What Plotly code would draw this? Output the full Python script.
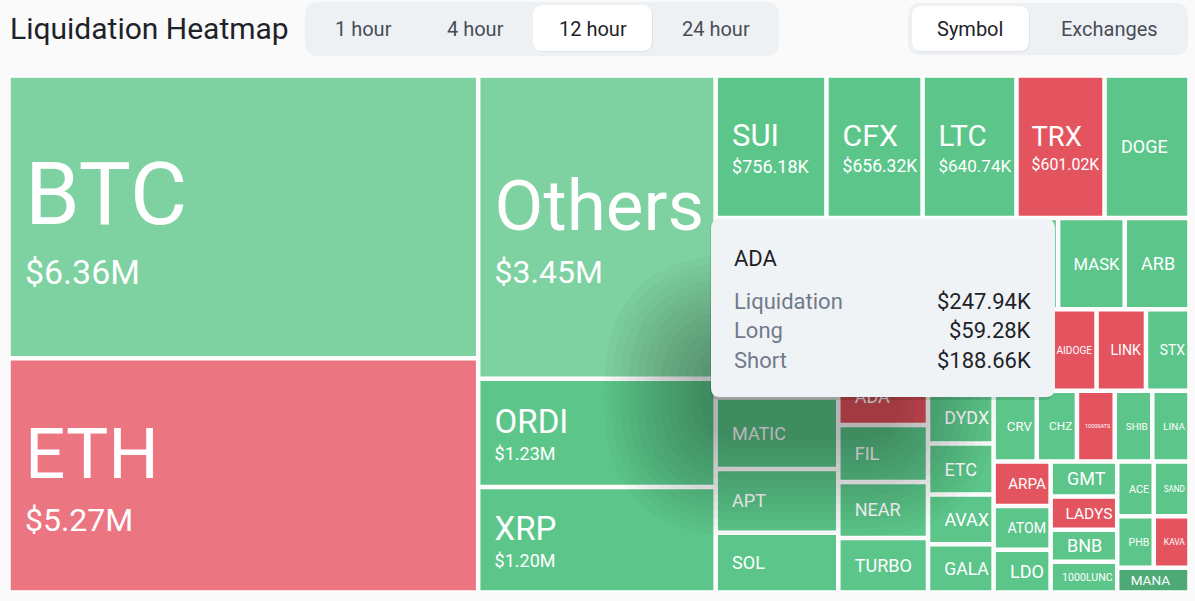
import plotly.graph_objects as go

W, H = 1195, 601

# ---- data (liquidations, thousands of USD) ----
symbols = [
    "BTC", "ETH", "Others", "ORDI", "XRP",
    "SUI", "CFX", "LTC", "TRX", "DOGE",
    "BCH", "WLD", "MATIC", "APT", "SOL",
    "OP", "TIA", "INJ", "MASK", "ARB",
    "BLUR", "ADA", "FIL", "NEAR", "TURBO",
    "FET", "SEI", "AIDOGE", "LINK", "STX",
    "DYDX", "ETC", "AVAX", "GALA",
    "CRV", "CHZ", "1000SATS", "SHIB", "LINA",
    "ARPA", "ATOM", "LDO",
    "GMT", "LADYS", "BNB", "1000LUNC",
    "ACE", "SAND", "PHB", "KAVA", "MANA",
]
liquidation_k = [
    6360, 5270, 3450, 1230, 1200,
    756.18, 656.32, 640.74, 601.02, 580,
    545, 509, 420, 375, 351,
    321, 320, 319, 291, 283,
    249, 247.94, 245, 241, 234,
    232, 226, 200, 193, 170,
    166, 160, 156, 152,
    146, 136, 128, 127, 126,
    122, 119, 117,
    112, 106, 102, 98,
    96, 94, 90, 88, 86,
]
# share of the liquidations that hit longs (%), estimated from tile colour
long_pct = [
    58, 44, 60, 72, 75,
    78, 70, 74, 30, 72,
    70, 76, 73, 77, 71,
    68, 74, 70, 75, 72,
    69, 23.9, 72, 74, 77,
    73, 70, 28, 31, 76,
    74, 70, 72, 75,
    71, 73, 27, 70, 76,
    32, 72, 74,
    71, 29, 73, 70,
    75, 72, 74, 30, 93,
]

hover_symbol = "ADA"
hover_long_k = 59.28
hover_short_k = 188.66
# tiles whose labels sit completely under the hover card
under_card = ["BCH", "WLD", "OP", "TIA", "INJ", "BLUR", "FET", "SEI"]

periods = ["1 hour", "4 hour", "12 hour", "24 hour"]
selected_period = "12 hour"
views = ["Symbol", "Exchanges"]
selected_view = "Symbol"


def tile_color(p):
    if p < 40:
        return "#E4545F"
    if p < 50:
        return "#EC7582"
    if p < 65:
        return "#7ED1A0"
    if p < 90:
        return "#5CC68A"
    return "#4DAA76"


def money(v):
    return f"${v / 1000:.2f}M" if v >= 1000 else f"${v:.2f}K"


def tile_text(name, v):
    if name in under_card:
        return ""
    pad = '<span style="font-size:16px">&nbsp;&nbsp;&nbsp;</span>'
    if v >= 6000:
        ns, vs = 88, 34
    elif v >= 3000:
        ns, vs = 71, 32
    elif v >= 1000:
        ns, vs = 33, 18
    elif v >= 600:
        ns, vs = 31, 18
    else:
        return f'{pad}<span style="font-size:18px">{name}</span>'
    return (f'{pad}<span style="font-size:{ns}px">{name}</span><br>'
            f'{pad}<span style="font-size:{vs}px">{money(v)}</span>')


def base_size(v):
    # controls the gap between the name line and the value line
    if v >= 6000:
        return 46
    if v >= 3000:
        return 41
    if v >= 600:
        return 21
    return 18


# explicit root so every per-tile array has an entry for every node
ids = ["all"] + symbols
labels = [""] + symbols
parents = [""] + ["all"] * len(symbols)
values = [sum(liquidation_k)] + liquidation_k
texts = [""] + [tile_text(s, v) for s, v in zip(symbols, liquidation_k)]
colors = ["rgba(0,0,0,0)"] + [tile_color(p) for p in long_pct]
sizes = [18] + [base_size(v) for v in liquidation_k]

fig = go.Figure(go.Treemap(
    ids=ids,
    labels=labels,
    parents=parents,
    values=values,
    branchvalues="total",
    text=texts,
    textinfo="text",
    textposition="middle left",
    textfont=dict(family="Roboto", color="white", size=sizes),
    marker=dict(colors=colors,
                line=dict(color="white", width=1.5),
                pad=dict(t=0, l=0, r=0, b=0)),
    tiling=dict(squarifyratio=1.618034),
    sort=True,
    pathbar=dict(visible=False),
    hoverinfo="skip",
    domain=dict(x=[10 / W, 1188 / W], y=[1 - 591 / H, 1 - 77 / H]),
))


def P(x, y):
    return f"{x / W:.5f},{1 - y / H:.5f}"


def rounded(x0, y0, x1, y1, r):
    return (f"M{P(x0 + r, y0)} L{P(x1 - r, y0)} Q{P(x1, y0)} {P(x1, y0 + r)} "
            f"L{P(x1, y1 - r)} Q{P(x1, y1)} {P(x1 - r, y1)} L{P(x0 + r, y1)} "
            f"Q{P(x0, y1)} {P(x0, y1 - r)} L{P(x0, y0 + r)} Q{P(x0, y0)} {P(x0 + r, y0)} Z")


shapes = []


def box(x0, y0, x1, y1, r, fill, opacity=1):
    shapes.append(dict(type="path", xref="paper", yref="paper",
                       path=rounded(x0, y0, x1, y1, r), fillcolor=fill,
                       opacity=opacity, line=dict(width=0), layer="above"))


annotations = []


def label(x, y, text, size, color, anchor="left"):
    annotations.append(dict(x=x / W, y=1 - y / H, xref="paper", yref="paper",
                            text=text, showarrow=False, xanchor=anchor,
                            yanchor="middle",
                            font=dict(family="Roboto", size=size, color=color)))


# ---- header ----
label(8, 29, "Liquidation Heatmap", 30, "#1E2329")

box(305, 2, 779, 56, 13, "#EEF1F4")
period_x = [363, 475, 593, 716]
for p, cx in zip(periods, period_x):
    if p == selected_period:
        box(534, 6, 653, 52, 10, "rgba(0,0,0,0.06)")
        box(533, 5, 652, 51, 10, "white")
for p, cx in zip(periods, period_x):
    label(cx, 29, p, 20, "#1E2329" if p == selected_period else "#474D57",
          anchor="center")

box(908, 3, 1188, 55, 13, "#EEF1F4")
view_x = [970, 1109]
for v, cx in zip(views, view_x):
    if v == selected_view:
        box(913, 7, 1030, 52, 10, "rgba(0,0,0,0.06)")
        box(912, 6, 1029, 51, 10, "white")
for v, cx in zip(views, view_x):
    label(cx, 29, v, 20, "#1E2329" if v == selected_view else "#474D57",
          anchor="center")

# ---- tooltip for the hovered tile (soft drop shadow, then the card) ----
tx0, ty0, tx1, ty1 = 711, 219, 1055, 397
for i in range(13):
    g = 8 * i
    box(700 - g, 350 - g, 900 + g, 440 + g, 40 + g, "black", 0.024)
box(tx0 - 1, ty0 + 1, tx1 - 1, ty1 + 3, 9, "rgba(0,0,0,0.10)")
box(tx0, ty0, tx1, ty1, 9, "#F0F3F6")

hover_value = liquidation_k[symbols.index(hover_symbol)]
label(732, 258, hover_symbol, 22, "#1E2329")
rows = [("Liquidation", hover_value), ("Long", hover_long_k), ("Short", hover_short_k)]
for i, (name, v) in enumerate(rows):
    y = 301 + 29.5 * i
    label(732, y, name, 22, "#707A8A")
    label(1033, y, money(v), 22, "#1E2329", anchor="right")

fig.update_layout(
    width=W, height=H,
    margin=dict(l=0, r=0, t=0, b=0),
    paper_bgcolor="#FAFAFA",
    shapes=shapes,
    annotations=annotations,
    showlegend=False,
)

fig.write_html("out.html", config={"displayModeBar": False},
               post_script="document.body.style.margin='0';document.body.style.padding='0';")
